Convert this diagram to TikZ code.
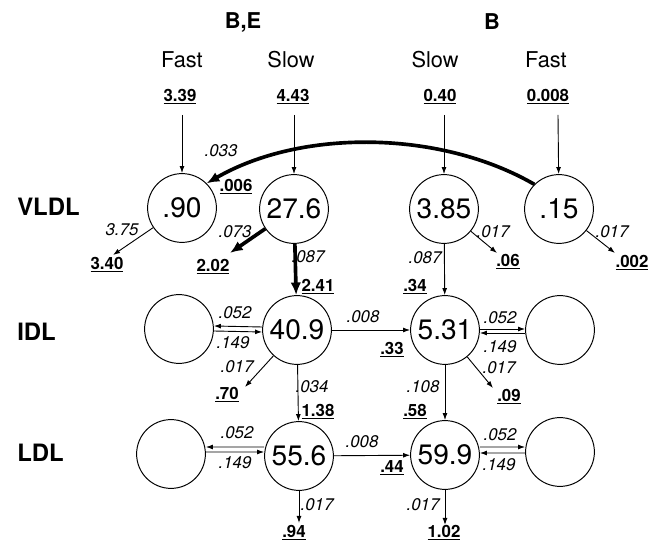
\documentclass[tikz,border=0pt]{standalone}
\usepackage{fontspec}
\setmainfont{TeX Gyre Heros}
\usetikzlibrary{arrows.meta}

\newcommand{\fx}[1]{\underline{#1}}

\begin{document}
\begin{tikzpicture}[
    pool/.style={circle, draw, line width=0.7pt, minimum size=1.72cm, inner sep=0pt, fill=white, font=\fontsize{20pt}{20pt}\selectfont},
    rate/.style={inner sep=1pt, font=\fontsize{12pt}{12pt}\selectfont\itshape},
    flux/.style={inner sep=1pt, font=\fontsize{12pt}{12pt}\selectfont\bfseries},
    head/.style={font=\fontsize{15.5pt}{15.5pt}\selectfont},
    grp/.style={font=\fontsize{15.5pt}{15.5pt}\selectfont\bfseries},
    row/.style={anchor=west, inner sep=0pt, font=\fontsize{17pt}{17pt}\selectfont\bfseries},
    flow/.style={line width=0.65pt, -{Latex[length=5pt,width=3.5pt]}},
    bigflow/.style={line width=2.6pt, -{Latex[length=9pt,width=7.5pt]}}
]
    \useasboundingbox (0,0) rectangle (16.5,-13.55);

    % headers
    \node[grp] (g1) at (6.075,-0.55) {B,E};
    \node[grp] (g2) at (12.3,-0.55) {B};

    \node[head] (h1) at (4.55,-1.5) {Fast};
    \node[head] (h2) at (7.275,-1.5) {Slow};
    \node[head] (h3) at (10.875,-1.5) {Slow};
    \node[head] (h4) at (13.65,-1.5) {Fast};

    \node[flux] (v1) at (4.5,-2.425) {\fx{3.39}};
    \node[flux] (v2) at (7.325,-2.425) {\fx{4.43}};
    \node[flux] (v3) at (11.0,-2.425) {\fx{0.40}};
    \node[flux] (v4) at (13.7,-2.425) {\fx{0.008}};

    \node[row] (r1) at (0.425,-5.175) {VLDL};
    \node[row] (r2) at (0.425,-8.3) {IDL};
    \node[row] (r3) at (0.425,-11.325) {LDL};

    % pools
    \node[pool] (1) at (4.55,-5.2) {.90};
    \node[pool] (2) at (7.35,-5.225) {27.6};
    \node[pool] (3) at (11.1,-5.225) {3.85};
    \node[pool] (4) at (13.975,-5.225) {.15};

    \node[pool] (5) at (4.475,-8.225) {};
    \node[pool] (6) at (7.425,-8.25) {40.9};
    \node[pool] (7) at (11.125,-8.25) {5.31};
    \node[pool] (8) at (14.0,-8.25) {};

    \node[pool] (9) at (4.275,-11.35) {};
    \node[pool] (10) at (7.475,-11.4) {55.6};
    \node[pool] (11) at (11.125,-11.375) {59.9};
    \node[pool] (12) at (14.0,-11.3) {};

    % inputs
    \coordinate (s1) at (4.55,-2.875);
    \coordinate (s2) at (7.35,-2.875);
    \coordinate (s3) at (11.1,-2.875);
    \coordinate (s4) at (13.95,-2.875);

    \draw[flow] (s1) -- (1);
    \draw[flow] (s2) -- (2);
    \draw[flow] (s3) -- (3);
    \draw[flow] (s4) -- (4);

    % VLDL
    \draw[bigflow] (4.135) to[out=150, in=30, looseness=0.85] (1.45);
    \node[rate] (13) at (5.525,-3.775) {.033};
    \node[flux] (14) at (5.9,-4.675) {\fx{.006}};

    \coordinate (e1) at (2.825,-6.375);
    \draw[flow] (1) -- (e1);
    \node[rate] (15) at (3.05,-5.75) {3.75};
    \node[flux] (16) at (2.675,-6.625) {\fx{3.40}};

    \coordinate (e2) at (5.75,-6.325);
    \draw[bigflow] (2) -- (e2);
    \node[rate] (17) at (5.875,-5.8) {.073};
    \node[flux] (18) at (5.325,-6.675) {\fx{2.02}};

    \draw[bigflow] (2) -- (6);
    \node[rate] (19) at (7.7,-6.425) {.087};
    \node[flux] (20) at (7.95,-7.175) {\fx{2.41}};

    \coordinate (e3) at (12.425,-6.325);
    \draw[flow] (3) -- (e3);
    \node[rate] (21) at (12.325,-5.8) {.017};
    \node[flux] (22) at (12.7,-6.55) {\fx{.06}};

    \draw[flow] (3) -- (7);
    \node[rate] (23) at (10.625,-6.45) {.087};
    \node[flux] (24) at (10.375,-7.175) {\fx{.34}};

    \coordinate (e4) at (15.375,-6.325);
    \draw[flow] (4) -- (e4);
    \node[rate] (25) at (15.3,-5.8) {.017};
    \node[flux] (26) at (15.8,-6.575) {\fx{.002}};

    % IDL
    \draw[flow] ([yshift=0.075cm]6.west) -- ([yshift=0.075cm]5.east);
    \draw[flow] ([yshift=-0.05cm]5.east) -- ([yshift=-0.05cm]6.west);
    \node[rate] (27) at (5.875,-7.825) {.052};
    \node[rate] (28) at (5.825,-8.575) {.149};

    \coordinate (e6) at (6.125,-9.675);
    \draw[flow] (6) -- (e6);
    \node[rate] (29) at (5.925,-9.175) {.017};
    \node[flux] (30) at (5.675,-9.875) {\fx{.70}};

    \draw[flow] (6) -- (7);
    \node[rate] (31) at (9.075,-7.925) {.008};
    \node[flux] (32) at (9.8,-8.75) {\fx{.33}};

    \draw[flow] (6) -- (10);
    \node[rate] (33) at (7.8,-9.675) {.034};
    \node[flux] (34) at (7.95,-10.3) {\fx{1.38}};

    \draw[flow] ([yshift=0.025cm]7.east) -- ([yshift=0.025cm]8.west);
    \draw[flow] ([yshift=-0.075cm]8.west) -- ([yshift=-0.075cm]7.east);
    \node[rate] (35) at (12.5,-7.95) {.052};
    \node[rate] (36) at (12.5,-8.675) {.149};

    \coordinate (e7) at (12.325,-9.7);
    \draw[flow] (7) -- (e7);
    \node[rate] (37) at (12.475,-9.2) {.017};
    \node[flux] (38) at (12.725,-9.925) {\fx{.09}};

    \draw[flow] (7) -- (11);
    \node[rate] (39) at (10.575,-9.675) {.108};
    \node[flux] (40) at (10.375,-10.3) {\fx{.58}};

    % LDL
    \draw[flow] ([yshift=0.225cm]10.west) -- ([yshift=0.175cm]9.east);
    \draw[flow] ([yshift=0.05cm]9.east) -- ([yshift=0.1cm]10.west);
    \node[rate] (41) at (5.925,-10.825) {.052};
    \node[rate] (42) at (5.875,-11.575) {.149};

    \draw[flow] (10) -- (11);
    \node[rate] (43) at (9.05,-11.05) {.008};
    \node[flux] (44) at (9.8,-11.7) {\fx{.44}};

    \coordinate (e10) at (7.475,-13.075);
    \draw[flow] (10) -- (e10);
    \node[rate] (45) at (7.925,-12.625) {.017};
    \node[flux] (46) at (7.35,-13.325) {\fx{.94}};

    \draw[flow] ([yshift=0.2cm]11.east) -- ([yshift=0.125cm]12.west);
    \draw[flow] ([yshift=-0.025cm]12.west) -- ([yshift=0.05cm]11.east);
    \node[rate] (47) at (12.5,-10.875) {.052};
    \node[rate] (48) at (12.475,-11.625) {.149};

    \coordinate (e11) at (11.125,-13.125);
    \draw[flow] (11) -- (e11);
    \node[rate] (49) at (10.575,-12.625) {.017};
    \node[flux] (50) at (11.1,-13.325) {\fx{1.02}};

\end{tikzpicture}
\end{document}
